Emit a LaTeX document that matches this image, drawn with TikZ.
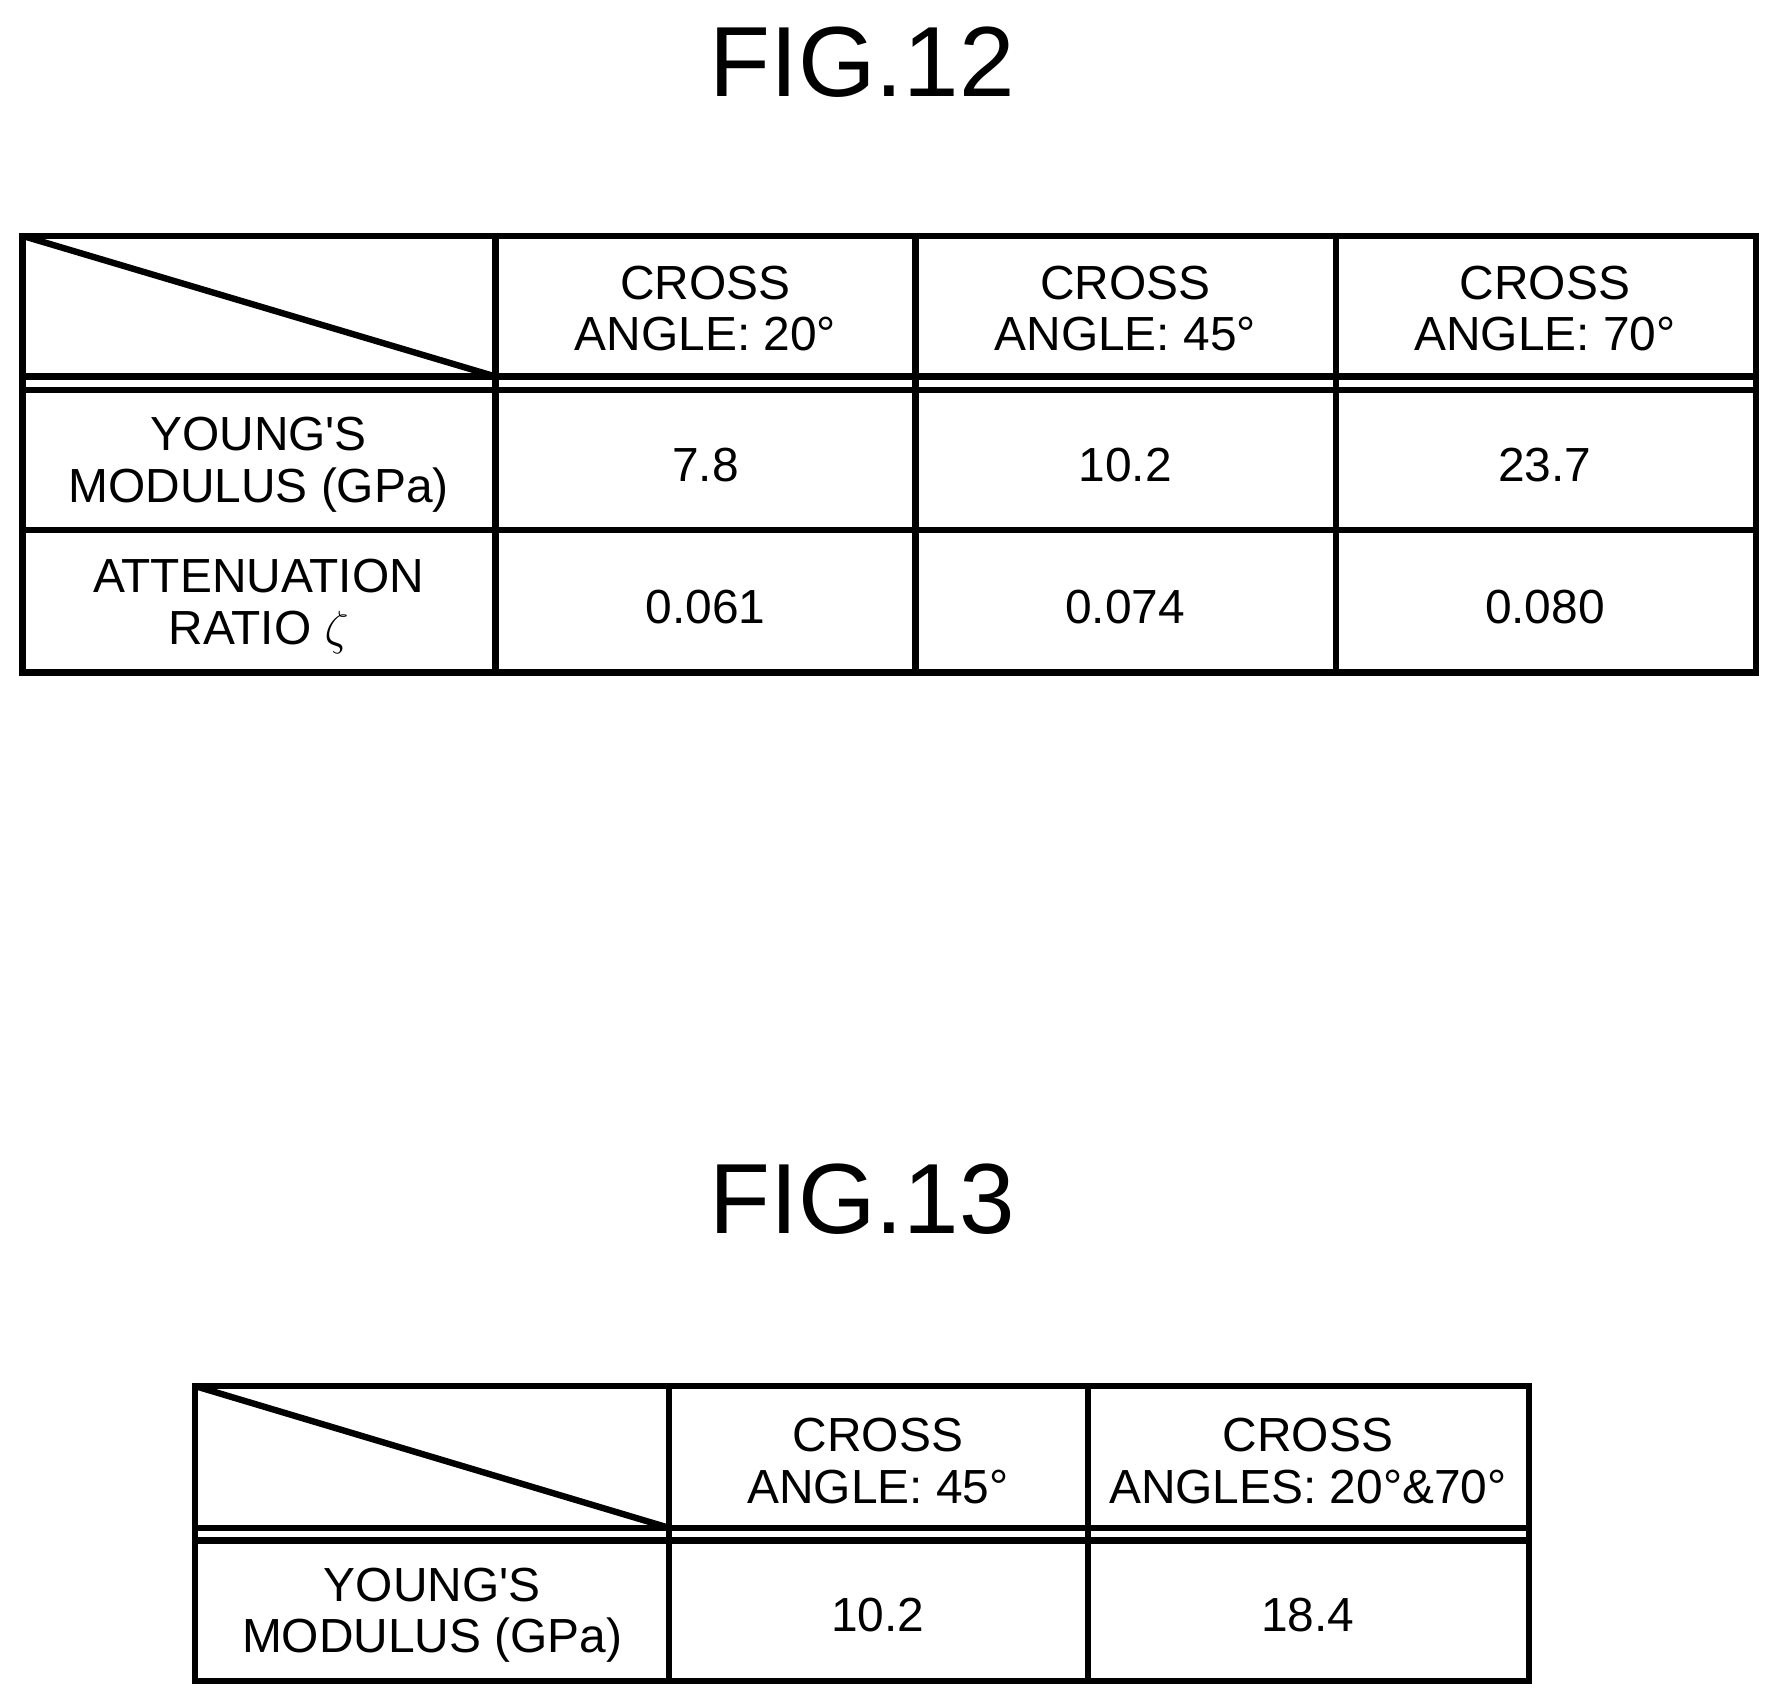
\documentclass[tikz,border=0pt]{standalone}
\usepackage{fontspec}
\setmainfont{Liberation Sans}
\tikzset{cell/.style={align=center,font=\fontsize{12}{13}\selectfont},
  title/.style={font=\fontsize{25}{26}\selectfont},
  rule/.style={line width=1.6pt}}
\begin{document}
\begin{tikzpicture}[x=0.01cm,y=-0.01cm]
            \useasboundingbox (0,0) rectangle (1564,1501);
            % FIG.12
            \node[title] (t12) at (760,55) {FIG.12};
            \draw[rule] (20,208) rectangle (1548,593);
            \draw[rule] (20,332) -- (1548,332) (20,344) -- (1548,344) (20,467) -- (1548,467);
            \foreach \x in {437,807,1178} \draw[rule] (\x,208) -- (\x,593);
            \draw[rule] (20,208) -- (437,332);
            \node[cell] (a1) at (622,272) {CROSS\\ANGLE: 20°};
            \node[cell] (a2) at (992,272) {CROSS\\ANGLE: 45°};
            \node[cell] (a3) at (1362,272) {CROSS\\ANGLE: 70°};
            \node[cell] (y) at (228,410) {YOUNG\textquotesingle S\\MODULUS (GPa)};
            \node[cell] (y1) at (622,410) {7.8};
            \node[cell] (y2) at (992,410) {10.2};
            \node[cell] (y3) at (1362,410) {23.7};
            \node[cell] (r) at (228,535) {ATTENUATION\\RATIO $\zeta$};
            \node[cell] (r1) at (622,535) {0.061};
            \node[cell] (r2) at (992,535) {0.074};
            \node[cell] (r3) at (1362,535) {0.080};
            % FIG.13
            \node[title] (t13) at (760,1057) {FIG.13};
            \draw[rule] (172,1222) rectangle (1348,1482);
            \draw[rule] (172,1347) -- (1348,1347) (172,1358) -- (1348,1358);
            \foreach \x in {590,959} \draw[rule] (\x,1222) -- (\x,1482);
            \draw[rule] (172,1222) -- (590,1347);
            \node[cell] (b1) at (774,1288) {CROSS\\ANGLE: 45°};
            \node[cell] (b2) at (1153,1288) {CROSS\\ANGLES: 20°\&70°};
            \node[cell] (z) at (381,1424) {YOUNG\textquotesingle S\\MODULUS (GPa)};
            \node[cell] (z1) at (774,1424) {10.2};
            \node[cell] (z2) at (1153,1424) {18.4};
\end{tikzpicture}
\end{document}
